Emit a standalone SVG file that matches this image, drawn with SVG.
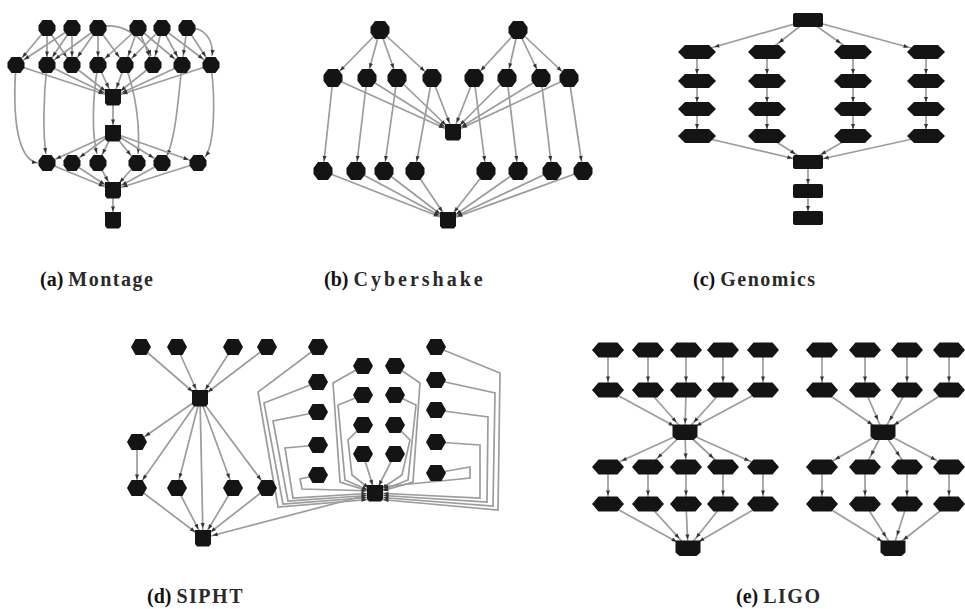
<svg xmlns="http://www.w3.org/2000/svg" xmlns:xlink="http://www.w3.org/1999/xlink" width="965" height="609" viewBox="0 0 965 609">
<style>
.e{fill:none;stroke:#9c9c9c;stroke-width:1.7}
.k{fill:#141414}
.m1{marker-end:url(#m1)}.m7{marker-end:url(#m7)}.m8{marker-end:url(#m8)}.m9{marker-end:url(#m9)}
.m13{marker-end:url(#m13)}.m14{marker-end:url(#m14)}.m15{marker-end:url(#m15)}.m16{marker-end:url(#m16)}.m18{marker-end:url(#m18)}
.lb{font-family:"Liberation Serif","Times New Roman",serif;font-size:20px;fill:#111}
.p{font-weight:bold}
.n{font-weight:bold;letter-spacing:1.5px;fill:#2a2a2a}
.n2{font-weight:bold;letter-spacing:3px;fill:#2a2a2a}
</style>
<defs>
<marker id="m1" viewBox="0 0 5 6" refX="6" refY="3" markerWidth="5" markerHeight="6" markerUnits="userSpaceOnUse" orient="auto" overflow="visible"><path d="M0,1L5,3L0,5z" fill="#333"/></marker>
<marker id="m7" viewBox="0 0 5 6" refX="12" refY="3" markerWidth="5" markerHeight="6" markerUnits="userSpaceOnUse" orient="auto" overflow="visible"><path d="M0,1L5,3L0,5z" fill="#333"/></marker>
<marker id="m8" viewBox="0 0 5 6" refX="13.5" refY="3" markerWidth="5" markerHeight="6" markerUnits="userSpaceOnUse" orient="auto" overflow="visible"><path d="M0,1L5,3L0,5z" fill="#333"/></marker>
<marker id="m9" viewBox="0 0 5 6" refX="15" refY="3" markerWidth="5" markerHeight="6" markerUnits="userSpaceOnUse" orient="auto" overflow="visible"><path d="M0,1L5,3L0,5z" fill="#333"/></marker>
<marker id="m13" viewBox="0 0 5 6" refX="18" refY="3" markerWidth="5" markerHeight="6" markerUnits="userSpaceOnUse" orient="auto" overflow="visible"><path d="M0,1L5,3L0,5z" fill="#333"/></marker>
<marker id="m14" viewBox="0 0 5 6" refX="20" refY="3" markerWidth="5" markerHeight="6" markerUnits="userSpaceOnUse" orient="auto" overflow="visible"><path d="M0,1L5,3L0,5z" fill="#333"/></marker>
<marker id="m15" viewBox="0 0 5 6" refX="20" refY="3" markerWidth="5" markerHeight="6" markerUnits="userSpaceOnUse" orient="auto" overflow="visible"><path d="M0,1L5,3L0,5z" fill="#333"/></marker>
<marker id="m16" viewBox="0 0 5 6" refX="21" refY="3" markerWidth="5" markerHeight="6" markerUnits="userSpaceOnUse" orient="auto" overflow="visible"><path d="M0,1L5,3L0,5z" fill="#333"/></marker>
<marker id="m18" viewBox="0 0 5 6" refX="23" refY="3" markerWidth="5" markerHeight="6" markerUnits="userSpaceOnUse" orient="auto" overflow="visible"><path d="M0,1L5,3L0,5z" fill="#333"/></marker>
<polygon id="mh" class="k" points="-4.5,-8 4.5,-8 8.5,-2.5 8.5,2.5 4.5,8 -4.5,8 -8.5,2.5 -8.5,-2.5"/>
<path id="ms" class="k" d="M-8,-8H8V6L6,8.5H-6L-8,6Z"/>
<polygon id="ch" class="k" points="-5,-9 5,-9 9.5,-3 9.5,3 5,9 -5,9 -9.5,3 -9.5,-3"/>
<path id="cs" class="k" d="M-8,-8H8V6L6,8.5H-6L-8,6Z"/>
<polygon id="gh" class="k" points="-12,-7 12,-7 19,0 12,7 -12,7 -19,0"/>
<rect id="gr" class="k" x="-15" y="-7" width="30" height="14" rx="2"/>
<polygon id="sh" class="k" points="-5.5,-8 5.5,-8 10,0 5.5,8 -5.5,8 -10,0"/>
<path id="ss" class="k" d="M-8,-8H8V6L6,8.5H-6L-8,6Z"/>
<polygon id="lh" class="k" points="-9.5,-7.5 9.5,-7.5 16,0 9.5,7.5 -9.5,7.5 -16,0"/>
<path id="lr" class="k" d="M-12.5,-7.5H12.5V4.5L8.5,8H-8.5L-12.5,4.5Z"/>
</defs>
<rect width="965" height="609" fill="#fff"/>

<g id="edges">
<g id="montage-edges">
<path class="e m9" d="M47,28L16,65"/><path class="e m8" d="M47,28L47,65"/><path class="e m9" d="M47,28L72,65"/>
<path class="e m9" d="M72,28L16,65"/><path class="e m9" d="M72,28L47,65"/><path class="e m8" d="M72,28L72,65"/>
<path class="e m9" d="M98,28L47,65"/><path class="e m9" d="M98,28L72,65"/><path class="e m8" d="M98,28L98,65"/><path class="e m9" d="M98,28L125,65"/>
<path class="e m1" d="M98,28C120,20 145,38 151,56"/>
<path class="e m9" d="M138,28L98,65"/><path class="e m9" d="M138,28L125,65"/><path class="e m9" d="M138,28L153,65"/><path class="e m9" d="M138,28L182,65"/>
<path class="e m9" d="M162,28L125,65"/><path class="e m9" d="M162,28L153,65"/><path class="e m9" d="M162,28L182,65"/><path class="e m9" d="M162,28L211,65"/>
<path class="e m9" d="M187,28L182,65"/><path class="e m9" d="M187,28L211,65"/>
<path class="e m1" d="M187,28C204,26 214,40 212,56"/>
<path class="e m9" d="M16,65L113,97"/><path class="e m9" d="M47,65L113,97"/><path class="e m9" d="M72,65L113,97"/><path class="e m9" d="M98,65L113,97"/>
<path class="e m9" d="M125,65L113,97"/><path class="e m9" d="M153,65L113,97"/><path class="e m9" d="M182,65L113,97"/><path class="e m9" d="M211,65L113,97"/>
<path class="e m8" d="M113,97L113,133"/>
<path class="e m1" d="M16,65C12,120 18,160 38,163"/>
<path class="e m1" d="M47,65C43,100 43,135 46,154"/>
<path class="e m1" d="M98,65C92,100 92,135 97,154"/>
<path class="e m1" d="M125,65C137,95 140,130 138,154"/>
<path class="e m1" d="M182,65C178,100 176,135 167,156"/>
<path class="e m1" d="M211,65C216,105 214,145 205,157"/>
<path class="e m9" d="M113,133L47,163"/><path class="e m9" d="M113,133L72,163"/><path class="e m9" d="M113,133L98,163"/>
<path class="e m9" d="M113,133L137,163"/><path class="e m9" d="M113,133L162,163"/><path class="e m9" d="M113,133L198,163"/>
<path class="e m9" d="M47,163L113,190"/><path class="e m9" d="M72,163L113,190"/><path class="e m9" d="M98,163L113,190"/>
<path class="e m9" d="M137,163L113,190"/><path class="e m9" d="M162,163L113,190"/><path class="e m9" d="M198,163L113,190"/>
<path class="e m8" d="M113,190L113,220"/>
</g>
<g id="cybershake-edges">
<path class="e m9" d="M380,30L333,78"/><path class="e m9" d="M380,30L367,78"/><path class="e m9" d="M380,30L397,78"/><path class="e m9" d="M380,30L432,78"/>
<path class="e m9" d="M518,30L474,78"/><path class="e m9" d="M518,30L507,78"/><path class="e m9" d="M518,30L541,78"/><path class="e m9" d="M518,30L569,78"/>
<path class="e m9" d="M333,78L453,132"/><path class="e m9" d="M367,78L453,132"/><path class="e m9" d="M397,78L453,132"/><path class="e m9" d="M432,78L453,132"/>
<path class="e m9" d="M474,78L453,132"/><path class="e m9" d="M507,78L453,132"/><path class="e m9" d="M541,78L453,132"/><path class="e m9" d="M569,78L453,132"/>
<path class="e m9" d="M333,78L323,171"/><path class="e m9" d="M367,78L356,171"/><path class="e m9" d="M397,78L384,171"/><path class="e m9" d="M432,78L415,171"/>
<path class="e m9" d="M474,78L486,171"/><path class="e m9" d="M507,78L518,171"/><path class="e m9" d="M541,78L552,171"/><path class="e m9" d="M569,78L583,171"/>
<path class="e m9" d="M323,171L448,220"/><path class="e m9" d="M356,171L448,220"/><path class="e m9" d="M384,171L448,220"/><path class="e m9" d="M415,171L448,220"/>
<path class="e m9" d="M486,171L448,220"/><path class="e m9" d="M518,171L448,220"/><path class="e m9" d="M552,171L448,220"/><path class="e m9" d="M583,171L448,220"/>
</g>
<g id="genomics-edges">
<path class="e m18" d="M808,20L697,52"/><path class="e m15" d="M808,20L767,52"/><path class="e m15" d="M808,20L853,52"/><path class="e m18" d="M808,20L926,52"/>
<path class="e m7" d="M697,52L697,81"/><path class="e m7" d="M697,81L697,109"/><path class="e m7" d="M697,109L697,136"/>
<path class="e m7" d="M767,52L767,81"/><path class="e m7" d="M767,81L767,109"/><path class="e m7" d="M767,109L767,136"/>
<path class="e m7" d="M853,52L853,81"/><path class="e m7" d="M853,81L853,109"/><path class="e m7" d="M853,109L853,136"/>
<path class="e m7" d="M926,52L926,81"/><path class="e m7" d="M926,81L926,109"/><path class="e m7" d="M926,109L926,136"/>
<path class="e m16" d="M697,136L808,162"/><path class="e m14" d="M767,136L808,162"/><path class="e m14" d="M853,136L808,162"/><path class="e m16" d="M926,136L808,162"/>
<path class="e m7" d="M808,162L808,191"/><path class="e m7" d="M808,191L808,218"/>
</g>
<g id="sipht-edges">
<path class="e m9" d="M141,347L200,398"/><path class="e m9" d="M177,347L200,398"/><path class="e m9" d="M233,347L200,398"/><path class="e m9" d="M267,347L200,398"/>
<path class="e m9" d="M200,398L137,442"/><path class="e m9" d="M200,398L137,488"/><path class="e m9" d="M200,398L177,488"/><path class="e m9" d="M200,398L233,488"/><path class="e m9" d="M200,398L267,488"/><path class="e m9" d="M200,398L203,538"/>
<path class="e m8" d="M137,442L137,488"/>
<path class="e m9" d="M137,488L203,538"/><path class="e m9" d="M177,488L203,538"/><path class="e m9" d="M233,488L203,538"/><path class="e m9" d="M267,488L203,538"/>
<path class="e m9" d="M375,493L203,538"/>
<path class="e m8" d="M318,347L258,392L278,507L375,499"/>
<path class="e m8" d="M318,382L264,403L283,504L375,497"/>
<path class="e m8" d="M318,412L273,421L288,501L375,495"/>
<path class="e m8" d="M318,445L285,448L293,498L375,493"/>
<path class="e m8" d="M318,475L300,479L302,489L375,491"/>
<path class="e m8" d="M363,366L333,383L340,482L375,493"/>
<path class="e m8" d="M363,395L338,405L345,480L375,493"/>
<path class="e m8" d="M363,425L348,440L352,475L375,493"/>
<path class="e m8" d="M363,454L375,493"/>
<path class="e m8" d="M395,366L420,383L413,482L375,493"/>
<path class="e m8" d="M395,395L416,405L408,480L375,493"/>
<path class="e m8" d="M395,425L410,440L402,475L375,493"/>
<path class="e m8" d="M395,454L375,493"/>
<path class="e m8" d="M436,347L500,373L498,510L375,499"/>
<path class="e m8" d="M436,380L495,393L493,506L375,497"/>
<path class="e m8" d="M436,410L488,417L487,502L375,495"/>
<path class="e m8" d="M436,442L480,445L480,498L375,493"/>
<path class="e m8" d="M436,473L470,467L470,478L390,486L375,490"/>
</g>
<g id="ligo-edges">
<path class="e m8" d="M608,350L608,390"/><path class="e m8" d="M648,350L648,390"/><path class="e m8" d="M686,350L686,390"/><path class="e m8" d="M723,350L723,390"/><path class="e m8" d="M763,350L763,390"/>
<path class="e m13" d="M608,390L685,432"/><path class="e m13" d="M648,390L685,432"/><path class="e m8" d="M686,390L685,432"/><path class="e m13" d="M723,390L685,432"/><path class="e m13" d="M763,390L685,432"/>
<path class="e m14" d="M685,432L608,467"/><path class="e m13" d="M685,432L648,467"/><path class="e m8" d="M685,432L686,467"/><path class="e m13" d="M685,432L723,467"/><path class="e m14" d="M685,432L763,467"/>
<path class="e m8" d="M608,467L608,504"/><path class="e m8" d="M648,467L648,504"/><path class="e m8" d="M686,467L686,504"/><path class="e m8" d="M723,467L723,504"/><path class="e m8" d="M763,467L763,504"/>
<path class="e m13" d="M608,504L688,548"/><path class="e m13" d="M648,504L688,548"/><path class="e m8" d="M686,504L688,548"/><path class="e m13" d="M723,504L688,548"/><path class="e m13" d="M763,504L688,548"/>
<path class="e m8" d="M822,350L822,390"/><path class="e m8" d="M865,350L865,390"/><path class="e m8" d="M907,350L907,390"/><path class="e m8" d="M949,350L949,390"/>
<path class="e m13" d="M822,390L883,432"/><path class="e m13" d="M865,390L883,432"/><path class="e m13" d="M907,390L883,432"/><path class="e m13" d="M949,390L883,432"/>
<path class="e m14" d="M883,432L822,467"/><path class="e m13" d="M883,432L865,467"/><path class="e m13" d="M883,432L907,467"/><path class="e m14" d="M883,432L949,467"/>
<path class="e m8" d="M822,467L822,504"/><path class="e m8" d="M865,467L865,504"/><path class="e m8" d="M907,467L907,504"/><path class="e m8" d="M949,467L949,504"/>
<path class="e m13" d="M822,504L893,548"/><path class="e m13" d="M865,504L893,548"/><path class="e m13" d="M907,504L893,548"/><path class="e m13" d="M949,504L893,548"/>
</g>
</g>

<g id="montage-nodes">
<g id="ma1"><use href="#mh" x="47" y="28"/></g><g id="ma2"><use href="#mh" x="72" y="28"/></g><g id="ma3"><use href="#mh" x="98" y="28"/></g>
<g id="ma4"><use href="#mh" x="138" y="28"/></g><g id="ma5"><use href="#mh" x="162" y="28"/></g><g id="ma6"><use href="#mh" x="187" y="28"/></g>
<g id="mb1"><use href="#mh" x="16" y="65"/></g><g id="mb2"><use href="#mh" x="47" y="65"/></g><g id="mb3"><use href="#mh" x="72" y="65"/></g><g id="mb4"><use href="#mh" x="98" y="65"/></g>
<g id="mb5"><use href="#mh" x="125" y="65"/></g><g id="mb6"><use href="#mh" x="153" y="65"/></g><g id="mb7"><use href="#mh" x="182" y="65"/></g><g id="mb8"><use href="#mh" x="211" y="65"/></g>
<g id="mh1"><use href="#ms" x="113" y="97"/></g><g id="mh2"><use href="#ms" x="113" y="133"/></g>
<g id="mc1"><use href="#mh" x="47" y="163"/></g><g id="mc2"><use href="#mh" x="72" y="163"/></g><g id="mc3"><use href="#mh" x="98" y="163"/></g>
<g id="mc4"><use href="#mh" x="137" y="163"/></g><g id="mc5"><use href="#mh" x="162" y="163"/></g><g id="mc6"><use href="#mh" x="198" y="163"/></g>
<g id="mh3"><use href="#ms" x="113" y="190"/></g><g id="mh4"><use href="#ms" x="113" y="220"/></g>
</g>
<g id="cybershake-nodes">
<g id="ca1"><use href="#ch" x="380" y="30"/></g><g id="ca2"><use href="#ch" x="518" y="30"/></g>
<g id="cb1"><use href="#ch" x="333" y="78"/></g><g id="cb2"><use href="#ch" x="367" y="78"/></g><g id="cb3"><use href="#ch" x="397" y="78"/></g><g id="cb4"><use href="#ch" x="432" y="78"/></g>
<g id="cb5"><use href="#ch" x="474" y="78"/></g><g id="cb6"><use href="#ch" x="507" y="78"/></g><g id="cb7"><use href="#ch" x="541" y="78"/></g><g id="cb8"><use href="#ch" x="569" y="78"/></g>
<g id="chub"><use href="#cs" x="453" y="132"/></g>
<g id="cc1"><use href="#ch" x="323" y="171"/></g><g id="cc2"><use href="#ch" x="356" y="171"/></g><g id="cc3"><use href="#ch" x="384" y="171"/></g><g id="cc4"><use href="#ch" x="415" y="171"/></g>
<g id="cc5"><use href="#ch" x="486" y="171"/></g><g id="cc6"><use href="#ch" x="518" y="171"/></g><g id="cc7"><use href="#ch" x="552" y="171"/></g><g id="cc8"><use href="#ch" x="583" y="171"/></g>
<g id="csink"><use href="#cs" x="448" y="220"/></g>
</g>
<g id="genomics-nodes">
<g id="gtop"><use href="#gr" x="808" y="20"/></g>
<g id="g11"><use href="#gh" x="697" y="52"/></g><g id="g12"><use href="#gh" x="697" y="81"/></g><g id="g13"><use href="#gh" x="697" y="109"/></g><g id="g14"><use href="#gh" x="697" y="136"/></g>
<g id="g21"><use href="#gh" x="767" y="52"/></g><g id="g22"><use href="#gh" x="767" y="81"/></g><g id="g23"><use href="#gh" x="767" y="109"/></g><g id="g24"><use href="#gh" x="767" y="136"/></g>
<g id="g31"><use href="#gh" x="853" y="52"/></g><g id="g32"><use href="#gh" x="853" y="81"/></g><g id="g33"><use href="#gh" x="853" y="109"/></g><g id="g34"><use href="#gh" x="853" y="136"/></g>
<g id="g41"><use href="#gh" x="926" y="52"/></g><g id="g42"><use href="#gh" x="926" y="81"/></g><g id="g43"><use href="#gh" x="926" y="109"/></g><g id="g44"><use href="#gh" x="926" y="136"/></g>
<g id="gmerge"><use href="#gr" x="808" y="162"/></g><g id="gm2"><use href="#gr" x="808" y="191"/></g><g id="gm3"><use href="#gr" x="808" y="218"/></g>
</g>
<g id="sipht-nodes">
<g id="sa1"><use href="#sh" x="141" y="347"/></g><g id="sa2"><use href="#sh" x="177" y="347"/></g><g id="sa3"><use href="#sh" x="233" y="347"/></g><g id="sa4"><use href="#sh" x="267" y="347"/></g>
<g id="shub"><use href="#ss" x="200" y="398"/></g>
<g id="sl"><use href="#sh" x="137" y="442"/></g>
<g id="sb1"><use href="#sh" x="137" y="488"/></g><g id="sb2"><use href="#sh" x="177" y="488"/></g><g id="sb3"><use href="#sh" x="233" y="488"/></g><g id="sb4"><use href="#sh" x="267" y="488"/></g>
<g id="ssink"><use href="#ss" x="203" y="538"/></g>
<g id="sd0"><use href="#sh" x="318" y="347"/></g><g id="sd1"><use href="#sh" x="318" y="382"/></g><g id="sd2"><use href="#sh" x="318" y="412"/></g><g id="sd3"><use href="#sh" x="318" y="445"/></g><g id="sd4"><use href="#sh" x="318" y="475"/></g>
<g id="se1"><use href="#sh" x="363" y="366"/></g><g id="se2"><use href="#sh" x="363" y="395"/></g><g id="se3"><use href="#sh" x="363" y="425"/></g><g id="se4"><use href="#sh" x="363" y="454"/></g>
<g id="se5"><use href="#sh" x="395" y="366"/></g><g id="se6"><use href="#sh" x="395" y="395"/></g><g id="se7"><use href="#sh" x="395" y="425"/></g><g id="se8"><use href="#sh" x="395" y="454"/></g>
<g id="sf0"><use href="#sh" x="436" y="347"/></g><g id="sf1"><use href="#sh" x="436" y="380"/></g><g id="sf2"><use href="#sh" x="436" y="410"/></g><g id="sf3"><use href="#sh" x="436" y="442"/></g><g id="sf4"><use href="#sh" x="436" y="473"/></g>
<g id="shub2"><use href="#ss" x="375" y="493"/></g>
</g>
<g id="ligo-nodes">
<g id="la1"><use href="#lh" x="608" y="350"/></g><g id="la2"><use href="#lh" x="648" y="350"/></g><g id="la3"><use href="#lh" x="686" y="350"/></g><g id="la4"><use href="#lh" x="723" y="350"/></g><g id="la5"><use href="#lh" x="763" y="350"/></g>
<g id="lb1"><use href="#lh" x="608" y="390"/></g><g id="lb2"><use href="#lh" x="648" y="390"/></g><g id="lb3"><use href="#lh" x="686" y="390"/></g><g id="lb4"><use href="#lh" x="723" y="390"/></g><g id="lb5"><use href="#lh" x="763" y="390"/></g>
<g id="lhub1"><use href="#lr" x="685" y="432"/></g>
<g id="lc1"><use href="#lh" x="608" y="467"/></g><g id="lc2"><use href="#lh" x="648" y="467"/></g><g id="lc3"><use href="#lh" x="686" y="467"/></g><g id="lc4"><use href="#lh" x="723" y="467"/></g><g id="lc5"><use href="#lh" x="763" y="467"/></g>
<g id="ld1"><use href="#lh" x="608" y="504"/></g><g id="ld2"><use href="#lh" x="648" y="504"/></g><g id="ld3"><use href="#lh" x="686" y="504"/></g><g id="ld4"><use href="#lh" x="723" y="504"/></g><g id="ld5"><use href="#lh" x="763" y="504"/></g>
<g id="lsink1"><use href="#lr" x="688" y="548"/></g>
<g id="ra1"><use href="#lh" x="822" y="350"/></g><g id="ra2"><use href="#lh" x="865" y="350"/></g><g id="ra3"><use href="#lh" x="907" y="350"/></g><g id="ra4"><use href="#lh" x="949" y="350"/></g>
<g id="rb1"><use href="#lh" x="822" y="390"/></g><g id="rb2"><use href="#lh" x="865" y="390"/></g><g id="rb3"><use href="#lh" x="907" y="390"/></g><g id="rb4"><use href="#lh" x="949" y="390"/></g>
<g id="rhub"><use href="#lr" x="883" y="432"/></g>
<g id="rc1"><use href="#lh" x="822" y="467"/></g><g id="rc2"><use href="#lh" x="865" y="467"/></g><g id="rc3"><use href="#lh" x="907" y="467"/></g><g id="rc4"><use href="#lh" x="949" y="467"/></g>
<g id="rd1"><use href="#lh" x="822" y="504"/></g><g id="rd2"><use href="#lh" x="865" y="504"/></g><g id="rd3"><use href="#lh" x="907" y="504"/></g><g id="rd4"><use href="#lh" x="949" y="504"/></g>
<g id="rsink"><use href="#lr" x="893" y="548"/></g>
</g>

<g id="labels">
<text class="lb" x="40" y="286"><tspan class="p">(a)</tspan> <tspan class="n">Montage</tspan></text>
<text class="lb" x="324" y="286"><tspan class="p">(b)</tspan> <tspan class="n2">Cybershake</tspan></text>
<text class="lb" x="693" y="286"><tspan class="p">(c)</tspan> <tspan class="n">Genomics</tspan></text>
<text class="lb" x="147" y="603"><tspan class="p">(d)</tspan> <tspan class="n">SIPHT</tspan></text>
<text class="lb" x="736" y="603"><tspan class="p">(e)</tspan> <tspan class="n">LIGO</tspan></text>
</g>
</svg>
